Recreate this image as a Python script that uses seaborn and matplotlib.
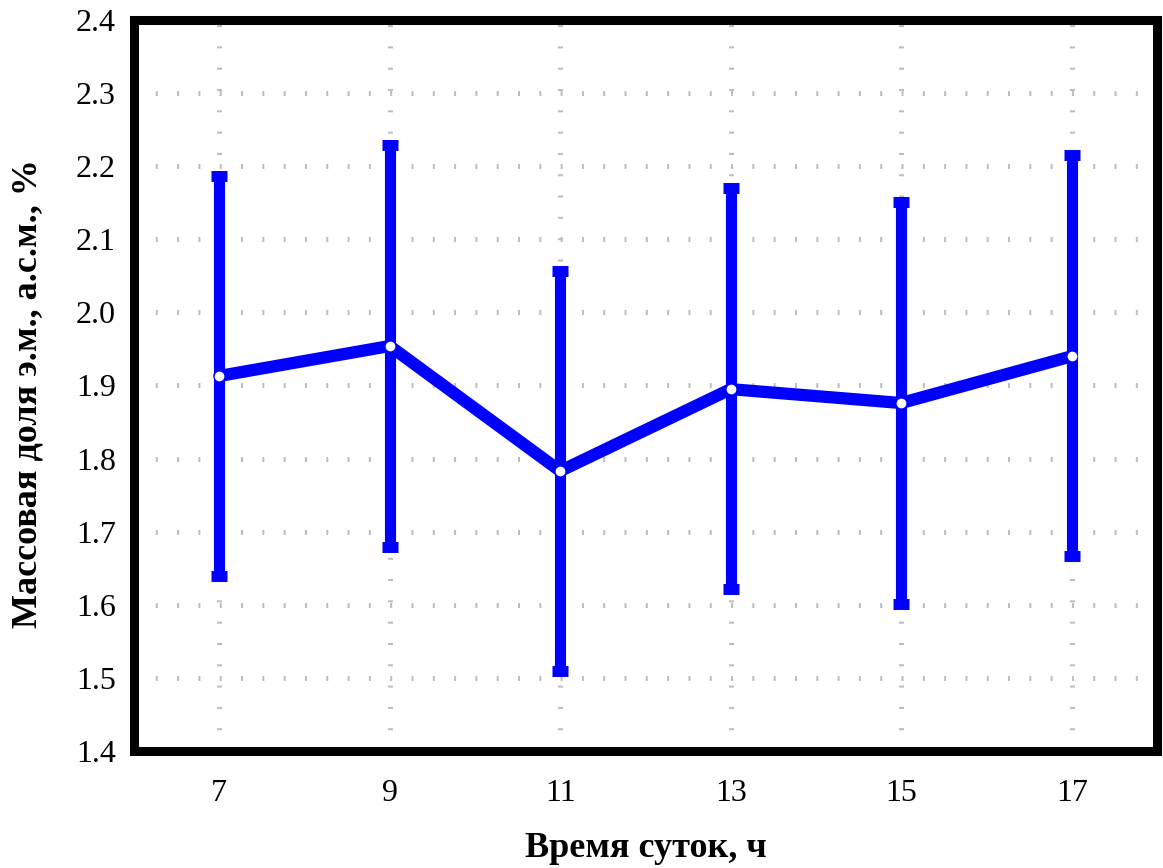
import numpy as np
import matplotlib
matplotlib.use("Agg")
import matplotlib.pyplot as plt
import seaborn as sns
import pandas as pd

# ---- data ----
hours = [7, 9, 11, 13, 15, 17]
means = [1.913, 1.954, 1.783, 1.895, 1.876, 1.940]
upper = [2.187, 2.229, 2.057, 2.170, 2.151, 2.215]
lower = [1.639, 1.679, 1.509, 1.622, 1.601, 1.667]
yticks = [1.4, 1.5, 1.6, 1.7, 1.8, 1.9, 2.0, 2.1, 2.2, 2.3, 2.4]
xlabel = "Время суток, ч"
ylabel = "Массовая доля э.м., а.с.м., %"

sns.set_style("white")
plt.rcParams['font.family'] = ['Liberation Serif', 'DejaVu Serif']
plt.rcParams['lines.scale_dashes'] = False
plt.rcParams['text.color'] = 'black'
plt.rcParams['axes.labelcolor'] = 'black'

fig = plt.figure(figsize=(11.63, 8.68), dpi=100)
ax = fig.add_axes([0.1152, 0.1348, 0.9948 - 0.1152, 0.977 - 0.1348])
ax.set_xlim(6, 18)
ax.set_ylim(1.4, 2.4)

# grid made of short ticks
grid_kw = dict(color='#bdbdbd', linewidth=3.6, linestyle=(0, (1.44, 13.9)),
               dash_capstyle='butt', zorder=0)
for yv in yticks[1:-1]:
    ax.plot([6, 18], [yv, yv], **grid_kw)
for xv in hours:
    ax.plot([xv, xv], [1.4, 2.4], **grid_kw)

df = pd.DataFrame({"hour": hours, "mean": means})
err_low = np.array(means) - np.array(lower)
err_up = np.array(upper) - np.array(means)
ax.errorbar(hours, means, yerr=[err_low, err_up], fmt='none', ecolor='#0000ff',
            elinewidth=8, capsize=6.1, capthick=7.9, zorder=2)
sns.lineplot(data=df, x="hour", y="mean", ax=ax, color='#0000ff', linewidth=8.8,
             marker='o', markersize=7, markerfacecolor='white',
             markeredgecolor='white', markeredgewidth=0, zorder=3)

ax.set_xticks(hours)
ax.set_xticklabels([str(h) for h in hours])
ax.set_yticks(yticks)
ax.set_yticklabels([f"{v:.1f}" for v in yticks])
ax.tick_params(axis='both', length=0, labelsize=23, colors='black',
               labelcolor='black')
ax.tick_params(axis='y', pad=13)
ax.tick_params(axis='x', pad=20)

for s in ax.spines.values():
    s.set_visible(True)
    s.set_color('black')
    s.set_linewidth(6.5)

ax.set_xlabel(xlabel, fontsize=26, fontweight='bold', color='black')
ax.set_ylabel(ylabel, fontsize=26, fontweight='bold', color='black')
ax.xaxis.set_label_coords(0.5, -0.1327)
ax.xaxis.label.set_va('center')
ax.yaxis.set_label_coords(-0.1036, 0.489)
ax.yaxis.label.set_va('center')

fig.savefig("out.png", dpi=100)
